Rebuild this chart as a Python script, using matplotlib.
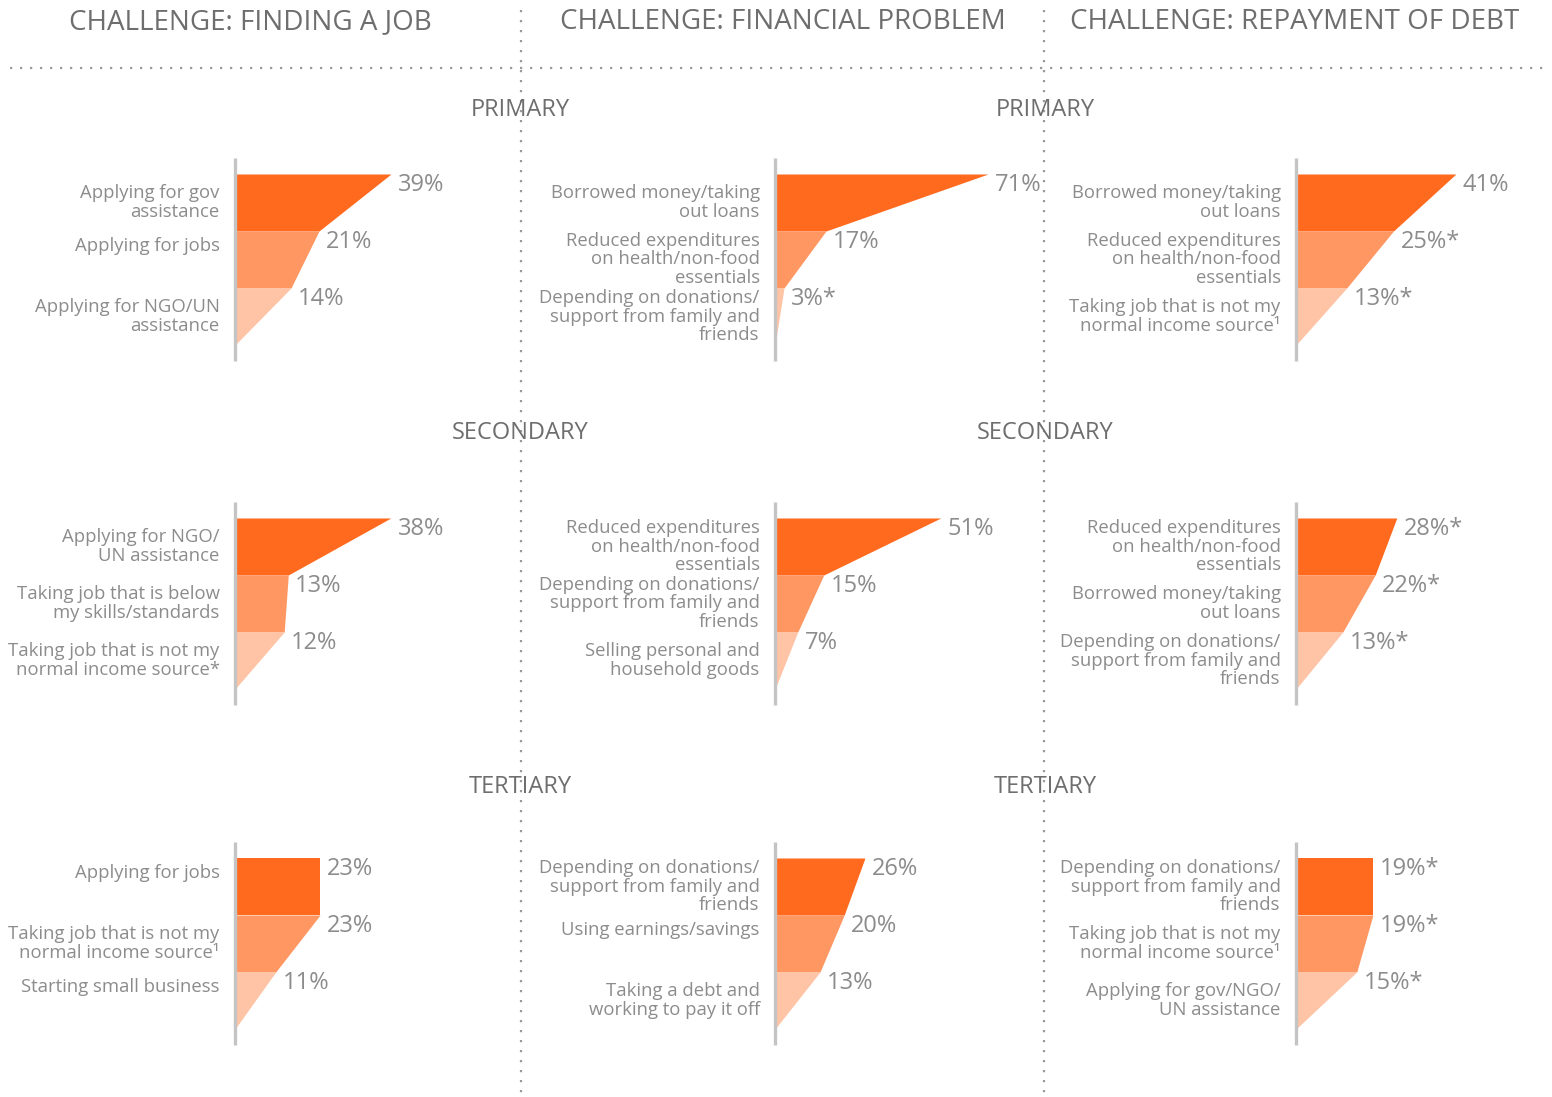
import matplotlib.pyplot as plt
from matplotlib.lines import Line2D

plt.rcParams['font.family'] = ['Open Sans', 'DejaVu Sans']

# titles
challenges = ['CHALLENGE: FINDING A JOB', 'CHALLENGE: FINANCIAL PROBLEM',
              'CHALLENGE: REPAYMENT OF DEBT']
levels = ['PRIMARY', 'SECONDARY', 'TERTIARY']

# finding a job
job_labels = [
    ['Applying for gov\nassistance', 'Applying for jobs', 'Applying for NGO/UN\nassistance'],
    ['Applying for NGO/\nUN assistance', 'Taking job that is below\nmy skills/standards',
     'Taking job that is not my\nnormal income source*'],
    ['Applying for jobs', 'Taking job that is not my\nnormal income source\u00b9',
     'Starting small business'],
]
job_values = [[39, 21, 14], [38, 13, 12], [23, 23, 11]]
job_star = [[0, 0, 0], [0, 0, 0], [0, 0, 0]]

# financial problem
fin_labels = [
    ['Borrowed money/taking\nout loans', 'Reduced expenditures\non health/non-food\nessentials',
     'Depending on donations/\nsupport from family and\nfriends'],
    ['Reduced expenditures\non health/non-food\nessentials',
     'Depending on donations/\nsupport from family and\nfriends',
     'Selling personal and\nhousehold goods'],
    ['Depending on donations/\nsupport from family and\nfriends', 'Using earnings/savings',
     'Taking a debt and\nworking to pay it off'],
]
fin_values = [[71, 17, 3], [51, 15, 7], [26, 20, 13]]
fin_star = [[0, 0, 1], [0, 0, 0], [0, 0, 0]]

# repayment of debt
debt_labels = [
    ['Borrowed money/taking\nout loans', 'Reduced expenditures\non health/non-food\nessentials',
     'Taking job that is not my\nnormal income source\u00b9'],
    ['Reduced expenditures\non health/non-food\nessentials', 'Borrowed money/taking\nout loans',
     'Depending on donations/\nsupport from family and\nfriends'],
    ['Depending on donations/\nsupport from family and\nfriends',
     'Taking job that is not my\nnormal income source\u00b9',
     'Applying for gov/NGO/\nUN assistance'],
]
debt_values = [[41, 25, 13], [28, 22, 13], [19, 19, 15]]
debt_star = [[0, 1, 1], [1, 1, 1], [1, 1, 1]]

all_labels = [job_labels, fin_labels, debt_labels]
all_values = [job_values, fin_values, debt_values]
all_star = [job_star, fin_star, debt_star]

colors = ['#FF6A1F', '#FF9763', '#FFC3A5']
txt = '#8C8C8C'
dark = '#6E6E6E'

# layout in pixels
W, H = 1552, 1097
col_x = [235, 775, 1296]
row_top = [174, 518, 858]
band_h = 57
px_per_pct = [[4.0, 4.1, 3.7], [3.0, 3.25, 3.46], [3.9, 3.6, 4.05]]
pw = 270

fig = plt.figure(figsize=(W / 100, H / 100), dpi=100)


def fx(px):
    return px / W


def fy(py):
    return 1 - py / H


pad = 16 / band_h
for c in range(3):
    for r in range(3):
        top = row_top[r] - 16
        bot = row_top[r] + 3 * band_h + 16
        ax = fig.add_axes([fx(col_x[c]), fy(bot), fx(pw), (bot - top) / H])
        ax.set_xlim(0, pw / px_per_pct[c][r])
        ax.set_ylim(3 + pad, -pad)
        ax.axis('off')
        vals = all_values[c][r] + [0]
        for i in range(3):
            ax.fill_betweenx([i, i + 1], 0, [vals[i], vals[i + 1]], color=colors[i], lw=0)
            s = '%d%%' % vals[i] + ('*' if all_star[c][r][i] else '')
            ax.annotate(s, (vals[i], i), xytext=(5, -8), textcoords='offset points',
                        ha='left', va='center', fontsize=17, color=txt)
            lab = all_labels[c][r][i]
            dy = 0 if '\n' in lab else 10
            ax.annotate(lab, (0, i + 0.5), xytext=(-11, dy), textcoords='offset points',
                        ha='right', va='center', fontsize=13.3, color=txt,
                        linespacing=1.03, multialignment='right')
        ax.plot([0, 0], [-pad, 3 + pad], color='#C4C4C4', lw=2.4, clip_on=False,
                solid_capstyle='butt')

# titles
title_x = [250, 783, 1295]
for c in range(3):
    fig.text(fx(title_x[c]), fy(22), challenges[c], ha='center', va='center',
             fontsize=20, color=dark)
level_y = [110, 433, 787]
for r in range(3):
    for x in (520, 1045):
        fig.text(fx(x), fy(level_y[r]), levels[r], ha='center', va='center',
                 fontsize=17, color=dark)

# dotted separators
dots = dict(color='#9A9A9A', lw=1.6, linestyle=(0, (1, 3.5)), transform=fig.transFigure)
fig.add_artist(Line2D([fx(10), fx(1550)], [fy(68), fy(68)], **dots))
for x in (521, 1044):
    fig.add_artist(Line2D([fx(x), fx(x)], [fy(10), fy(1097)], **dots))

fig.savefig('out.png', dpi=100, facecolor='white')
